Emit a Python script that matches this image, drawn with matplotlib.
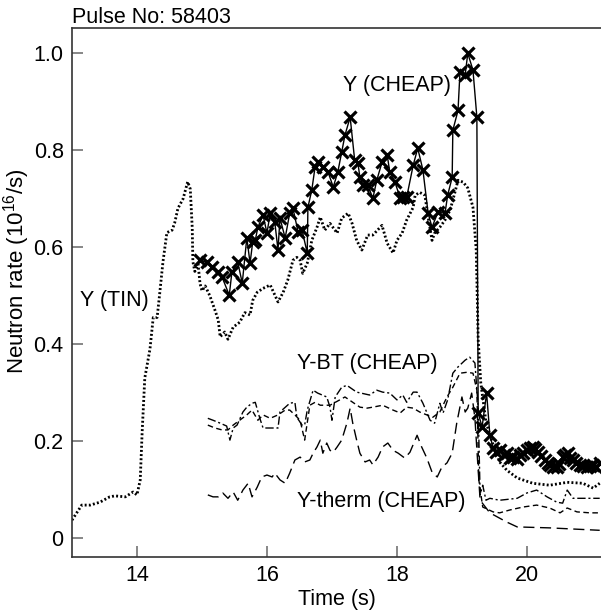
import matplotlib
matplotlib.use("Agg")
import matplotlib.pyplot as plt

plt.rcParams['font.family'] = ['Liberation Sans', 'DejaVu Sans']
plt.rcParams['mathtext.default'] = 'regular'

# Y (TIN) - dotted
tin_t = [13.00, 13.15, 13.28, 13.43, 13.58, 13.66, 13.82, 13.94, 14.00, 14.05, 14.08, 14.12,
         14.20, 14.25, 14.31, 14.35, 14.40, 14.46, 14.54, 14.58, 14.63, 14.71, 14.78, 14.82,
         14.85, 14.86, 14.89, 14.94, 14.97, 15.00, 15.05, 15.12, 15.20, 15.25, 15.28, 15.35,
         15.40, 15.48, 15.58, 15.66, 15.74, 15.78, 15.85, 15.94, 16.05, 16.17, 16.25, 16.32,
         16.40, 16.46, 16.51, 16.55, 16.62, 16.69, 16.77, 16.82, 16.89, 16.97, 17.08, 17.15,
         17.25, 17.31, 17.38, 17.46, 17.55, 17.63, 17.77, 17.85, 17.94, 18.00, 18.08, 18.15,
         18.25, 18.28, 18.35, 18.43, 18.48, 18.54, 18.58, 18.66, 18.74, 18.82, 18.89, 18.94,
         19.02, 19.09, 19.17, 19.22, 19.25, 19.29, 19.37, 19.46, 19.58, 19.69, 19.85, 20.09,
         20.35, 20.62, 20.86, 21.02, 21.12]
tin_y = [0.037, 0.068, 0.068, 0.074, 0.085, 0.087, 0.085, 0.095, 0.089, 0.12, 0.22, 0.33,
         0.39, 0.455, 0.455, 0.505, 0.57, 0.63, 0.635, 0.65, 0.68, 0.70, 0.735, 0.72,
         0.64, 0.57, 0.55, 0.565, 0.525, 0.51, 0.52, 0.50, 0.47, 0.45, 0.415, 0.425,
         0.41, 0.435, 0.445, 0.465, 0.46, 0.49, 0.507, 0.515, 0.522, 0.487, 0.507, 0.532,
         0.573, 0.579, 0.573, 0.546, 0.567, 0.614, 0.641, 0.662, 0.635, 0.649, 0.629, 0.660,
         0.670, 0.649, 0.614, 0.594, 0.625, 0.625, 0.645, 0.608, 0.588, 0.614, 0.629, 0.656,
         0.682, 0.707, 0.713, 0.707, 0.662, 0.614, 0.629, 0.641, 0.656, 0.677, 0.712, 0.738,
         0.734, 0.722, 0.682, 0.594, 0.41, 0.32, 0.24, 0.20, 0.157, 0.140, 0.124, 0.113,
         0.109, 0.115, 0.113, 0.103, 0.113]

# Y (CHEAP) - solid with crosses
cheap_t = [14.97, 15.08, 15.15, 15.25, 15.31, 15.42, 15.46, 15.55, 15.62, 15.69, 15.74, 15.78,
           15.82, 15.86, 15.94, 16.00, 16.05, 16.12, 16.17, 16.20, 16.28, 16.35, 16.40, 16.48,
           16.54, 16.62, 16.63, 16.69, 16.74, 16.78, 16.86, 16.94, 17.02, 17.09, 17.15, 17.20,
           17.28, 17.35, 17.40, 17.43, 17.48, 17.55, 17.63, 17.69, 17.77, 17.85, 17.89, 17.97,
           18.05, 18.09, 18.15, 18.25, 18.32, 18.40, 18.48, 18.54, 18.63, 18.74, 18.78, 18.85,
           18.86, 18.94, 18.97, 19.05, 19.09, 19.17, 19.23, 19.25, 19.31, 19.38, 19.43, 19.48,
           19.53, 19.58, 19.64, 19.69, 19.74, 19.78, 19.84, 19.89, 19.94, 20.00, 20.05, 20.09,
           20.13, 20.17, 20.22, 20.28, 20.32, 20.35, 20.40, 20.46, 20.50, 20.55, 20.59, 20.63,
           20.67, 20.71, 20.76, 20.82, 20.87, 20.92, 20.97, 21.02, 21.07, 21.12]
cheap_y = [0.573, 0.569, 0.559, 0.548, 0.538, 0.501, 0.548, 0.569, 0.526, 0.619, 0.567, 0.610,
           0.614, 0.641, 0.666, 0.629, 0.670, 0.652, 0.594, 0.660, 0.619, 0.670, 0.680, 0.631,
           0.635, 0.588, 0.682, 0.718, 0.765, 0.775, 0.765, 0.755, 0.724, 0.755, 0.796, 0.831,
           0.868, 0.779, 0.773, 0.744, 0.728, 0.728, 0.701, 0.738, 0.775, 0.790, 0.755, 0.734,
           0.701, 0.703, 0.703, 0.769, 0.804, 0.759, 0.670, 0.641, 0.672, 0.670, 0.707, 0.744,
           0.841, 0.882, 0.961, 0.955, 1.000, 0.965, 0.868, 0.258, 0.229, 0.299, 0.212, 0.186,
           0.178, 0.181, 0.172, 0.175, 0.166, 0.167, 0.164, 0.171, 0.176, 0.181, 0.185, 0.188,
           0.183, 0.177, 0.170, 0.161, 0.155, 0.151, 0.146, 0.146, 0.152, 0.167, 0.172, 0.175,
           0.166, 0.161, 0.155, 0.151, 0.148, 0.146, 0.149, 0.151, 0.147, 0.155]

# Y-BT (CHEAP) - dash-dot
bt_t = [15.09, 15.17, 15.28, 15.38, 15.43, 15.48, 15.54, 15.63, 15.69, 15.77, 15.82, 15.89,
        15.94, 16.09, 16.17, 16.20, 16.35, 16.43, 16.46, 16.54, 16.58, 16.62, 16.71, 16.78,
        16.92, 16.97, 17.00, 17.05, 17.15, 17.23, 17.38, 17.58, 17.69, 17.78, 17.89, 18.00,
        18.09, 18.15, 18.25, 18.31, 18.40, 18.51, 18.58, 18.66, 18.71, 18.78, 18.86, 18.94,
        19.05, 19.12, 19.20, 19.25, 19.28, 19.32, 19.37, 19.43, 19.58, 19.85, 20.00, 20.15,
        20.31, 20.46, 20.55, 20.62, 20.71, 20.86, 21.12]
bt_y = [0.247, 0.243, 0.237, 0.231, 0.202, 0.227, 0.233, 0.260, 0.270, 0.278, 0.280, 0.247,
        0.227, 0.227, 0.227, 0.260, 0.278, 0.280, 0.249, 0.233, 0.233, 0.264, 0.305, 0.299,
        0.291, 0.270, 0.243, 0.291, 0.311, 0.315, 0.301, 0.295, 0.305, 0.301, 0.299, 0.285,
        0.295, 0.280, 0.301, 0.301, 0.278, 0.243, 0.237, 0.278, 0.258, 0.285, 0.340, 0.353,
        0.367, 0.373, 0.361, 0.270, 0.089, 0.109, 0.078, 0.082, 0.078, 0.082, 0.093, 0.099,
        0.085, 0.074, 0.072, 0.099, 0.082, 0.082, 0.082]

# second BT trace - short dashes
bt2_t = [15.09, 15.20, 15.31, 15.40, 15.48, 15.58, 15.69, 15.77, 15.86, 15.94, 16.05, 16.17,
         16.28, 16.35, 16.43, 16.51, 16.58, 16.66, 16.74, 16.82, 16.97, 17.12, 17.20, 17.32,
         17.43, 17.54, 17.63, 17.78, 17.94, 18.05, 18.15, 18.25, 18.35, 18.46, 18.55, 18.66,
         18.77, 18.86, 18.97, 19.08, 19.17, 19.23, 19.26, 19.32, 19.48, 19.58, 19.74, 19.94,
         20.15, 20.35, 20.51, 20.62, 20.77, 20.97, 21.12]
bt2_y = [0.233, 0.227, 0.223, 0.223, 0.233, 0.243, 0.254, 0.264, 0.243, 0.254, 0.247, 0.254,
         0.264, 0.264, 0.254, 0.243, 0.202, 0.274, 0.280, 0.274, 0.274, 0.285, 0.291, 0.280,
         0.270, 0.268, 0.270, 0.274, 0.264, 0.258, 0.270, 0.268, 0.260, 0.254, 0.249, 0.260,
         0.291, 0.311, 0.340, 0.342, 0.340, 0.305, 0.12, 0.064, 0.054, 0.052, 0.058, 0.064,
         0.068, 0.062, 0.052, 0.062, 0.054, 0.052, 0.052]

# Y-therm (CHEAP) - long dashes
therm_t = [15.09, 15.17, 15.25, 15.32, 15.40, 15.48, 15.55, 15.63, 15.71, 15.77, 15.85, 15.92,
           16.00, 16.08, 16.12, 16.20, 16.28, 16.35, 16.43, 16.51, 16.58, 16.66, 16.71, 16.77,
           16.82, 16.86, 16.92, 16.97, 17.02, 17.08, 17.15, 17.23, 17.28, 17.32, 17.38, 17.43,
           17.51, 17.58, 17.63, 17.71, 17.78, 17.86, 17.94, 18.02, 18.12, 18.20, 18.31, 18.38,
           18.46, 18.54, 18.62, 18.69, 18.77, 18.85, 18.92, 19.00, 19.05, 19.09, 19.15, 19.20,
           19.25, 19.28, 19.43, 19.69, 19.85, 20.35, 21.12]
therm_y = [0.089, 0.085, 0.085, 0.093, 0.082, 0.095, 0.078, 0.099, 0.113, 0.085, 0.105, 0.126,
           0.130, 0.126, 0.134, 0.120, 0.113, 0.134, 0.161, 0.167, 0.157, 0.161, 0.175, 0.188,
           0.202, 0.175, 0.196, 0.181, 0.177, 0.188, 0.202, 0.237, 0.268, 0.237, 0.202, 0.175,
           0.157, 0.161, 0.151, 0.167, 0.188, 0.196, 0.181, 0.175, 0.165, 0.177, 0.212, 0.188,
           0.165, 0.136, 0.126, 0.146, 0.155, 0.175, 0.237, 0.291, 0.260, 0.268, 0.299, 0.247,
           0.140, 0.078, 0.052, 0.033, 0.023, 0.021, 0.016]

y_ticks = [0, 0.2, 0.4, 0.6, 0.8, 1.0]
y_tick_labels = ['0', '0.2', '0.4', '0.6', '0.8', '1.0']
x_ticks = [14, 16, 18, 20]

fig = plt.figure(figsize=(6.01, 6.13), dpi=100)
ax = fig.add_axes([0.1198, 0.0914, 0.8802, 0.8629])

ax.plot(tin_t, tin_y, color='black', lw=2.0, linestyle=(0, (0.7, 0.8)))
ax.plot(bt_t, bt_y, color='black', lw=1.0, linestyle=(0, (6, 2, 1.5, 2)))
ax.plot(bt2_t, bt2_y, color='black', lw=1.0, linestyle=(0, (4, 2.5)))
ax.plot(therm_t, therm_y, color='black', lw=1.0, linestyle=(0, (8, 4)))
ax.plot(cheap_t, cheap_y, color='black', lw=1.0, marker='x', markersize=9,
        markeredgewidth=2.3)

ax.set_xlim(13.0, 21.14)
ax.set_ylim(-0.039, 1.052)
ax.set_xticks(x_ticks)
ax.set_xticklabels([str(t) for t in x_ticks])
ax.set_yticks(y_ticks)
ax.set_yticklabels(y_tick_labels)
ax.tick_params(direction='in', length=8, width=1.2, color='0.45', labelsize=15.5, pad=6)
ax.spines['right'].set_visible(False)
for s in ['left', 'bottom', 'top']:
    ax.spines[s].set_color('0.2')
    ax.spines[s].set_linewidth(1.2)

ax.set_xlabel('Time (s)', fontsize=15.5, labelpad=2)
ax.set_ylabel('Neutron rate (10$^{16}$/s)', fontsize=16)
ax.yaxis.set_label_coords(-0.076, 0.54)
ax.set_title('Pulse No: 58403', loc='left', fontsize=15.5, pad=3)

ax.text(17.17, 0.934, 'Y (CHEAP)', fontsize=15.5, va='center', ha='left')
ax.text(13.12, 0.49, 'Y (TIN)', fontsize=15.5, va='center', ha='left')
ax.text(16.46, 0.36, 'Y-BT (CHEAP)', fontsize=15.5, va='center', ha='left')
ax.text(16.46, 0.075, 'Y-therm (CHEAP)', fontsize=15.5, va='center', ha='left')

fig.savefig('out.png', dpi=100)
